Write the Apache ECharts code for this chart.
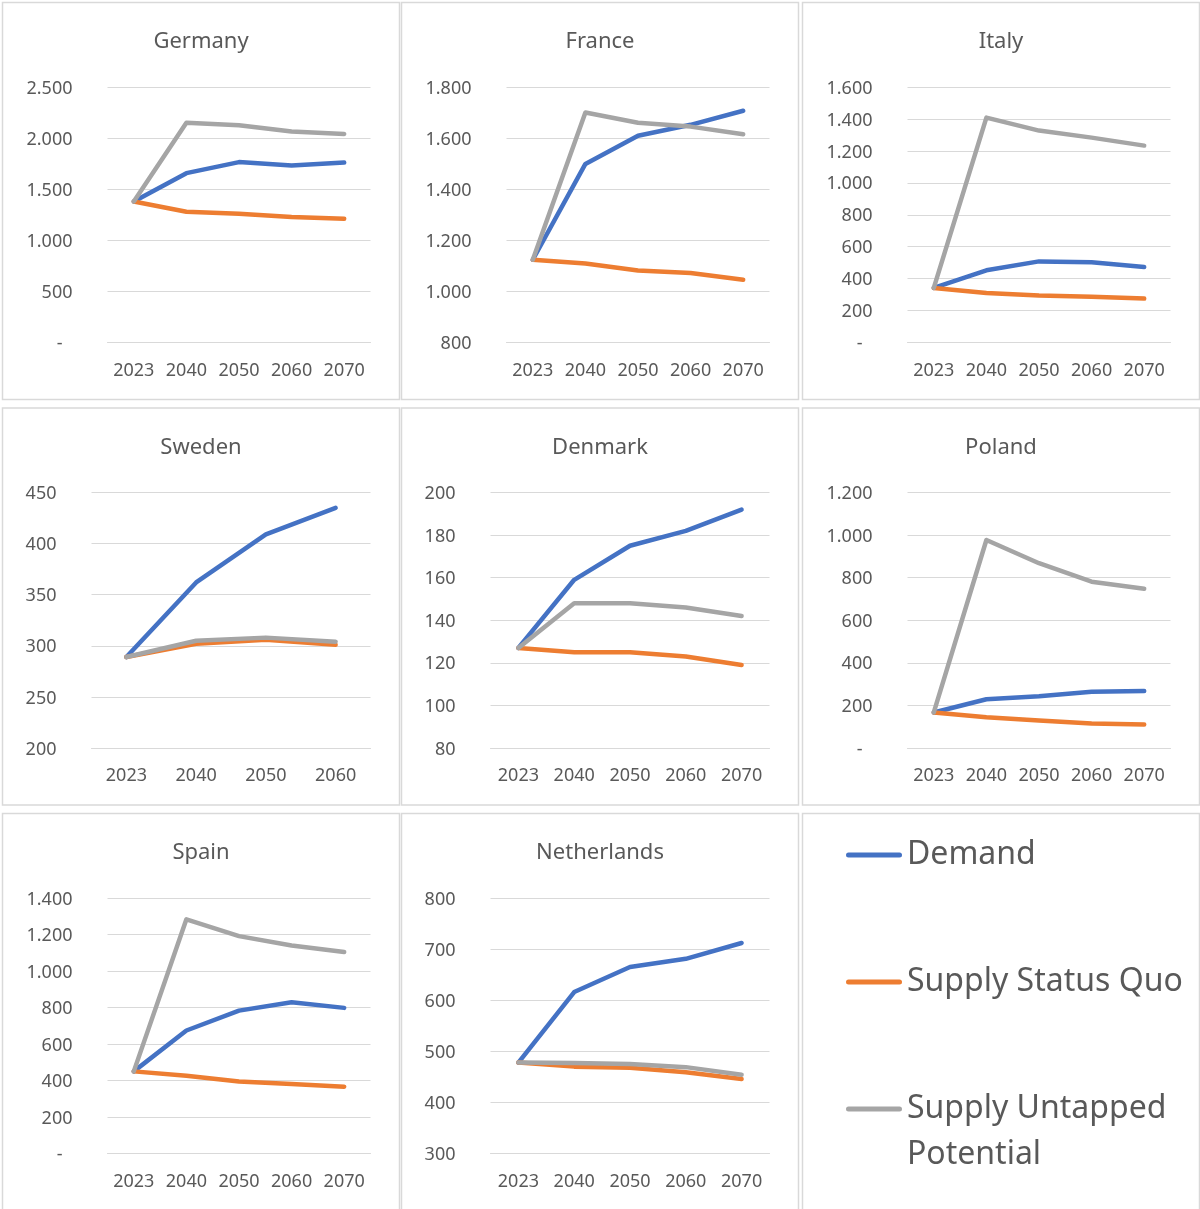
<!DOCTYPE html>
<html>
<head>
<meta charset="utf-8">
<script src="https://cdn.jsdelivr.net/npm/echarts@6/dist/echarts.min.js"></script>
<style>
  html, body { margin: 0; padding: 0; background: #ffffff; }
  #chart { width: 1200px; height: 1209px; }
</style>
</head>
<body>
<div id="chart"></div>
<script>
// Categories
const years = ['2023', '2040', '2050', '2060', '2070'];
const yearsSweden = ['2023', '2040', '2050', '2060'];
const seriesNames = ['Demand', 'Supply Status Quo', 'Supply Untapped Potential'];
const countryNames = ['Germany', 'France', 'Italy', 'Sweden', 'Denmark', 'Poland', 'Spain', 'Netherlands'];

// Series values per country
const germanyDemand    = [1380, 1657, 1765, 1732, 1761];
const germanyStatusQuo = [1380, 1279, 1260, 1227, 1211];
const germanyUntapped  = [1380, 2151, 2125, 2064, 2041];

const franceDemand    = [1124, 1499, 1609, 1652, 1707];
const franceStatusQuo = [1124, 1109, 1082, 1072, 1046];
const franceUntapped  = [1124, 1700, 1660, 1645, 1615];

const italyDemand    = [342, 452, 508, 502, 473];
const italyStatusQuo = [342, 310, 294, 287, 275];
const italyUntapped  = [342, 1408, 1327, 1283, 1233];

const swedenDemand    = [289, 362, 409, 435];
const swedenStatusQuo = [289, 302, 306, 301];
const swedenUntapped  = [289, 305, 308, 304];

const denmarkDemand    = [127, 159, 175, 182, 192];
const denmarkStatusQuo = [127, 125, 125, 123, 119];
const denmarkUntapped  = [127, 148, 148, 146, 142];

const polandDemand    = [167, 229, 243, 264, 268];
const polandStatusQuo = [167, 144, 129, 115, 110];
const polandUntapped  = [167, 977, 868, 781, 748];

const spainDemand    = [450, 674, 783, 829, 798];
const spainStatusQuo = [450, 426, 394, 381, 366];
const spainUntapped  = [450, 1283, 1191, 1140, 1104];

const netherlandsDemand    = [478, 616, 665, 681, 712];
const netherlandsStatusQuo = [478, 470, 468, 459, 446];
const netherlandsUntapped  = [478, 477, 475, 469, 454];

// Value-axis tick ranges: [min, max, interval]
const germanyTicks     = [0, 2500, 500];
const franceTicks      = [800, 1800, 200];
const italyTicks       = [0, 1600, 200];
const swedenTicks      = [200, 450, 50];
const denmarkTicks     = [80, 200, 20];
const polandTicks      = [0, 1200, 200];
const spainTicks       = [0, 1400, 200];
const netherlandsTicks = [300, 800, 100];

const countryCategories = [years, years, years, yearsSweden, years, years, years, years];
const countryValues = [
  [germanyDemand, germanyStatusQuo, germanyUntapped],
  [franceDemand, franceStatusQuo, franceUntapped],
  [italyDemand, italyStatusQuo, italyUntapped],
  [swedenDemand, swedenStatusQuo, swedenUntapped],
  [denmarkDemand, denmarkStatusQuo, denmarkUntapped],
  [polandDemand, polandStatusQuo, polandUntapped],
  [spainDemand, spainStatusQuo, spainUntapped],
  [netherlandsDemand, netherlandsStatusQuo, netherlandsUntapped]
];
const countryTicks = [germanyTicks, franceTicks, italyTicks, swedenTicks, denmarkTicks, polandTicks, spainTicks, netherlandsTicks];

// Styling
const FONT = '"Noto Sans", "Open Sans", sans-serif';
const TEXT = '#595959';
const GRIDLINE = '#d9d9d9';
const COLORS = ['#4472C4', '#ED7D31', '#A5A5A5'];

// Panel frame geometry (3 x 3 tiles)
const colX = [2.5, 401.5, 802.5];
const rowY = [2.5, 408, 813.5];
const PANEL = 397;

function fmtValue(v) {
  if (v === 0) return '{d|-}';
  return String(v).replace(/\B(?=(\d{3})+(?!\d))/g, '.');
}

const titles = [], grids = [], xAxes = [], yAxes = [], series = [], frames = [];

for (let r = 0; r < 3; r++) {
  for (let c = 0; c < 3; c++) {
    frames.push({
      type: 'rect', silent: true, z: -1,
      shape: { x: colX[c], y: rowY[r], width: PANEL, height: PANEL },
      style: { fill: '#ffffff', stroke: GRIDLINE, lineWidth: 1.5 }
    });
  }
}

countryNames.forEach((name, i) => {
  const c = i % 3, r = Math.floor(i / 3);
  const px = colX[c], py = rowY[r];
  const ticks = countryTicks[i];
  const wideLabels = ticks[1] >= 1000;
  const left = px + (wideLabels ? 105 : 89);
  const right = px + 368;

  titles.push({
    text: name,
    left: px + PANEL / 2,
    top: py + 28.5,
    textAlign: 'center',
    padding: 0,
    textStyle: { fontFamily: FONT, fontSize: 22, fontWeight: 'normal', color: TEXT }
  });

  grids.push({ left: left, top: py + 84.5, width: right - left, height: 255.5, containLabel: false });

  xAxes.push({
    type: 'category', gridIndex: i, data: countryCategories[i], boundaryGap: true,
    axisLine: { show: true, onZero: false, lineStyle: { color: GRIDLINE, width: 1 } },
    axisTick: { show: false },
    splitLine: { show: false },
    axisLabel: { interval: 0, margin: 19, fontFamily: FONT, fontSize: 18, color: TEXT }
  });

  yAxes.push({
    type: 'value', gridIndex: i, min: ticks[0], max: ticks[1], interval: ticks[2],
    axisLine: { show: false }, axisTick: { show: false },
    splitLine: { show: true, lineStyle: { color: GRIDLINE, width: 1 } },
    axisLabel: {
      margin: 35, fontFamily: FONT, fontSize: 18, color: TEXT,
      padding: [3, 0, 0, 0],
      formatter: fmtValue,
      rich: { d: { padding: [0, 10, 0, 0], fontFamily: FONT, fontSize: 18, color: TEXT } }
    }
  });

  countryValues[i].forEach((vals, k) => {
    series.push({
      name: seriesNames[k], type: 'line', xAxisIndex: i, yAxisIndex: i,
      data: vals, symbol: 'none', smooth: false,
      color: COLORS[k],
      lineStyle: { color: COLORS[k], width: 4.5, cap: 'round', join: 'round' },
      emphasis: { disabled: true }
    });
  });
});

// Legend icons: a rounded bar; the tall variant keeps the bar at the top of its box
const barIcon = 'path://M2.5,0L53.5,0A2.5,2.5,0,0,1,53.5,5L2.5,5A2.5,2.5,0,0,1,2.5,0Z';
const barIconTall = barIcon + 'M0,51L56,51';

function legendFor(name, top, icon, itemHeight) {
  return {
    data: [{ name: name, icon: icon }],
    left: 846, top: top, padding: 0, orient: 'vertical',
    itemWidth: 56, itemHeight: itemHeight, symbolKeepAspect: false,
    itemStyle: { borderWidth: 0 },
    formatter: n => n === 'Supply Untapped Potential' ? 'Supply Untapped\nPotential' : n,
    textStyle: { fontFamily: FONT, fontSize: 32, color: TEXT, lineHeight: 46 }
  };
}

const option = {
  animation: false,
  backgroundColor: '#ffffff',
  title: titles,
  grid: grids,
  xAxis: xAxes,
  yAxis: yAxes,
  series: series,
  legend: [
    legendFor('Demand', 832, barIcon, 5),
    legendFor('Supply Status Quo', 959, barIcon, 5),
    legendFor('Supply Untapped Potential', 1086, barIconTall, 51)
  ],
  graphic: frames
};

const chart = echarts.init(document.getElementById('chart'), null, { renderer: 'canvas' });
chart.setOption(option);
</script>
</body>
</html>
